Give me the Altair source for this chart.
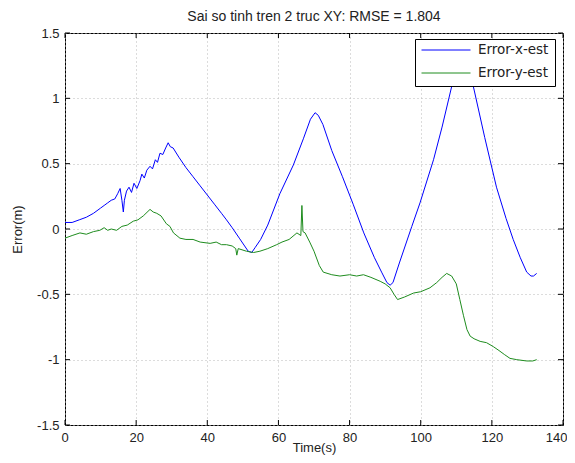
import altair as alt
import pandas as pd

# ---- data ----
x_t = [0, 2, 4, 6, 8, 10, 11, 12, 13, 14, 14.8, 15.5, 16.0, 16.4, 16.7, 17.3, 18.0, 18.7,
       19.4, 20.2, 21.1, 21.6, 22.3, 23.0, 23.9, 24.6, 25.4, 26.0, 26.7, 27.5, 28.3, 29.0,
       29.6, 30.4, 32, 34, 36, 38, 40, 42, 44, 45.4, 47, 49, 50.5, 51.5, 52.5, 53.5, 55, 57,
       60.4, 64.2, 67, 69, 70.3, 71.2, 72.5, 75, 78, 81, 84, 87, 89, 90.5, 91.4, 92.2, 94,
       97.5, 99.8, 103.6, 106, 108.7, 110.2, 111.5, 112.8, 114.8, 118, 121.3, 124, 126, 128,
       129.8, 131, 131.7, 132.6]
x_err = [0.05, 0.05, 0.07, 0.09, 0.12, 0.16, 0.18, 0.20, 0.22, 0.23, 0.27, 0.31, 0.22, 0.13,
         0.22, 0.29, 0.32, 0.28, 0.35, 0.31, 0.37, 0.42, 0.39, 0.45, 0.48, 0.46, 0.53, 0.51,
         0.58, 0.57, 0.62, 0.66, 0.63, 0.62, 0.55, 0.47, 0.40, 0.33, 0.26, 0.19, 0.12, 0.07,
         0.01, -0.07, -0.13, -0.17, -0.18, -0.14, -0.08, 0.03, 0.27, 0.49, 0.69, 0.84, 0.89,
         0.87, 0.80, 0.60, 0.40, 0.19, -0.03, -0.22, -0.33, -0.41, -0.43, -0.41, -0.26, 0.02,
         0.20, 0.53, 0.78, 1.09, 1.24, 1.29, 1.25, 1.09, 0.70, 0.32, 0.08, -0.08, -0.22, -0.33,
         -0.36, -0.36, -0.34]

y_t = [0, 2, 4.2, 6, 8, 9.8, 11, 12, 13, 14.5, 16, 17.5, 19.2, 20.5, 22, 23.9, 24.8, 25.8,
       27, 28.5, 29.5, 30.5, 32.3, 34, 36, 38, 40.8, 42.5, 44, 45.4, 47, 48.0, 48.3, 48.7,
       51, 53, 54.8, 57, 59.5, 61, 63, 65.2, 66.3, 66.6, 66.9, 67.5, 68.8, 70, 71.5, 72.6,
       75, 77.3, 80, 82, 83.9, 86, 88.6, 90, 91.4, 92.5, 93.5, 95.5, 98, 100, 102.6, 104.5,
       106, 107.3, 108.7, 110, 111, 112, 113, 113.9, 115, 116.7, 118.5, 120.4, 122, 123.5,
       125.1, 127, 129.8, 131.5, 132.6]
y_err = [-0.07, -0.05, -0.03, -0.04, -0.02, -0.01, 0.01, -0.01, 0.00, -0.01, 0.02, 0.03,
         0.06, 0.07, 0.10, 0.15, 0.13, 0.12, 0.10, 0.04, 0.02, -0.03, -0.07, -0.08, -0.08,
         -0.10, -0.11, -0.10, -0.12, -0.12, -0.13, -0.15, -0.20, -0.15, -0.17, -0.18, -0.17,
         -0.15, -0.12, -0.10, -0.08, -0.03, -0.05, 0.18, -0.02, -0.03, -0.10, -0.17, -0.28,
         -0.33, -0.35, -0.36, -0.35, -0.36, -0.35, -0.37, -0.40, -0.42, -0.45, -0.50, -0.54,
         -0.52, -0.49, -0.48, -0.45, -0.41, -0.37, -0.34, -0.36, -0.42, -0.54, -0.66, -0.77,
         -0.82, -0.84, -0.86, -0.87, -0.90, -0.93, -0.96, -0.99, -1.00, -1.01, -1.01, -1.00]

series_names = ["Error-x-est", "Error-y-est"]
series_colors = ["#0000ff", "#1e8c1e"]
x_ticks = [0, 20, 40, 60, 80, 100, 120, 140]
y_ticks = [-1.5, -1, -0.5, 0, 0.5, 1, 1.5]
title_text = ["Sai so tinh tren 2 truc XY: RMSE = 1.804"]

df = pd.concat([
    pd.DataFrame({"t": x_t, "err": x_err, "series": series_names[0]}),
    pd.DataFrame({"t": y_t, "err": y_err, "series": series_names[1]}),
], ignore_index=True)
df_xt = pd.DataFrame({"t": x_ticks})
df_yt = pd.DataFrame({"err": y_ticks})
df_title = pd.DataFrame({"label": title_text})

FONT = "Liberation Sans"
W, H = 498, 392

x_enc = alt.X("t:Q", scale=alt.Scale(domain=[0, 140], nice=False, zero=False),
              axis=alt.Axis(values=x_ticks, title="Time(s)", grid=True, ticks=False, tickSize=0,
                            domain=False, labelPadding=6, labelFontSize=13, labelFont=FONT,
                            labelColor="#222", titleFont=FONT, titleFontSize=13,
                            titleFontWeight="normal", titleColor="#222",
                            titleX=W / 2, titleY=22, titleBaseline="middle",
                            gridColor="#b8b8b8", gridDash=[1, 3],
                            labelFlush=True, labelFlushOffset=4))
y_enc = alt.Y("err:Q", scale=alt.Scale(domain=[-1.5, 1.5], nice=False, zero=False),
              axis=alt.Axis(values=y_ticks, title="Error(m)", grid=True, ticks=False, tickSize=0,
                            domain=False, labelPadding=6, labelFontSize=13, labelFont=FONT,
                            labelColor="#222", labelExpr="datum.value",
                            titleFont=FONT, titleFontSize=13, titleFontWeight="normal",
                            titleColor="#222", titleX=-48, titleY=H / 2, titleAngle=270,
                            titleAlign="center", titleBaseline="middle",
                            gridColor="#b8b8b8", gridDash=[1, 3], labelFlush=False))

lines = alt.Chart(df).mark_line(strokeWidth=1, clip=True).encode(
    x=x_enc,
    y=y_enc,
    color=alt.Color("series:N",
                    scale=alt.Scale(domain=series_names, range=series_colors),
                    legend=alt.Legend(title=None, orient="none", legendX=350, legendY=6,
                                      fillColor="white", strokeColor="black", padding=6,
                                      symbolType="stroke", symbolSize=2401,
                                      symbolStrokeWidth=1, clipHeight=10, rowPadding=9,
                                      labelOffset=7, labelFont="DejaVu Sans",
                                      labelFontSize=13.5, labelColor="#222")),
    order="t:Q",
)

tick_b = alt.Chart(df_xt).mark_rule(color="black").encode(
    x=x_enc, y=alt.value(H), y2=alt.value(H - 5))
tick_t = alt.Chart(df_xt).mark_rule(color="black").encode(
    x=x_enc, y=alt.value(0), y2=alt.value(5))
tick_l = alt.Chart(df_yt).mark_rule(color="black").encode(
    y=y_enc, x=alt.value(0), x2=alt.value(5))
tick_r = alt.Chart(df_yt).mark_rule(color="black").encode(
    y=y_enc, x=alt.value(W), x2=alt.value(W - 5))

title = alt.Chart(df_title).mark_text(
    font=FONT, fontSize=14, color="#222", align="center", baseline="alphabetic"
).encode(x=alt.value(W / 2), y=alt.value(-12), text="label:N")

chart = alt.layer(lines, tick_b, tick_t, tick_l, tick_r, title).properties(
    width=W, height=H,
    autosize=alt.AutoSizeParams(type="none"),
    padding={"left": 57, "top": 25, "right": 4, "bottom": 30},
).configure_view(stroke="black", strokeWidth=1)

chart.save("out.html", embed_options={"renderer": "svg", "actions": False})
